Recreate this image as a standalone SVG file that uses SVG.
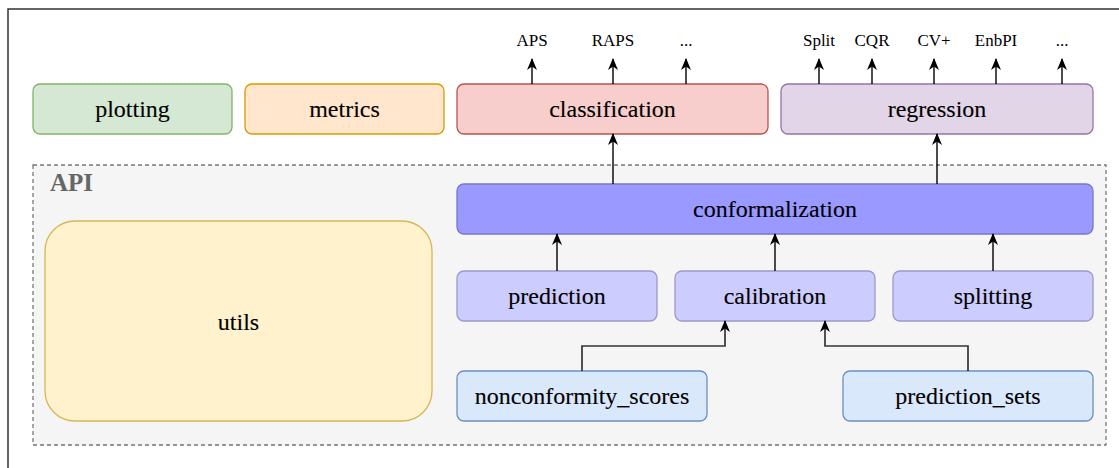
<svg xmlns="http://www.w3.org/2000/svg" width="1119" height="468" viewBox="0 0 1119 468">
<style>
  .nt { font-family: "Liberation Serif", "DejaVu Serif", serif; font-size: 24px; fill: #000; stroke: #000; stroke-width: 0.12; text-anchor: middle; }
  .sm { font-family: "Liberation Serif", "DejaVu Serif", serif; font-size: 17px; fill: #000; text-anchor: middle; }
  .api { font-family: "Liberation Serif", "DejaVu Serif", serif; font-size: 25px; font-weight: bold; fill: #666; }
  .box { stroke-width: 1.3; }
  .edge { fill: none; stroke: #000; stroke-width: 1.4; }
  .elbow { fill: none; stroke: #333; stroke-width: 1.7; }
</style>
<defs>
  <marker id="arr" viewBox="0 0 12 10" refX="11" refY="5" markerWidth="12" markerHeight="10" markerUnits="userSpaceOnUse" orient="auto">
    <path d="M0,0 L12,5 L0,10 L3.5,5 Z" fill="#000"/>
  </marker>
</defs>
<rect x="0" y="0" width="1119" height="468" fill="#fff"/>
<rect x="8" y="9" width="1140" height="480" fill="none" stroke="#333" stroke-width="1.5"/>

<g id="api">
  <rect x="33" y="165" width="1073" height="280" fill="#f5f5f5" stroke="#777" stroke-width="1.3" stroke-dasharray="4 3"/>
  <text class="api" x="50" y="191">API</text>
</g>

<g id="plotting">
  <rect class="box" x="33" y="84" width="199" height="50" rx="7" fill="#d5e8d4" stroke="#82b366"/>
  <text class="nt" x="132.5" y="117">plotting</text>
</g>
<g id="metrics">
  <rect class="box" x="245" y="84" width="199" height="50" rx="7" fill="#ffe6cc" stroke="#d79b00"/>
  <text class="nt" x="344.5" y="117">metrics</text>
</g>
<g id="classification">
  <rect class="box" x="457" y="84" width="311" height="50" rx="7" fill="#f8cecc" stroke="#b85450"/>
  <text class="nt" x="612.5" y="117">classification</text>
</g>
<g id="regression">
  <rect class="box" x="781" y="84" width="312" height="50" rx="7" fill="#e1d5e7" stroke="#9673a6"/>
  <text class="nt" x="937" y="117">regression</text>
</g>
<g id="conformalization">
  <rect class="box" x="457" y="184" width="636" height="50" rx="7" fill="#9999ff" stroke="#7777cc"/>
  <text class="nt" x="775" y="217">conformalization</text>
</g>
<g id="utils">
  <rect class="box" x="45" y="221" width="387" height="200" rx="30" fill="#fff2cc" stroke="#d6b656"/>
  <text class="nt" x="238.5" y="330">utils</text>
</g>
<g id="prediction">
  <rect class="box" x="457" y="271" width="200" height="50" rx="7" fill="#ccccff" stroke="#9999cc"/>
  <text class="nt" x="557" y="304">prediction</text>
</g>
<g id="calibration">
  <rect class="box" x="675" y="271" width="200" height="50" rx="7" fill="#ccccff" stroke="#9999cc"/>
  <text class="nt" x="775" y="304">calibration</text>
</g>
<g id="splitting">
  <rect class="box" x="893" y="271" width="200" height="50" rx="7" fill="#ccccff" stroke="#9999cc"/>
  <text class="nt" x="993" y="304">splitting</text>
</g>
<g id="nonconformity_scores">
  <rect class="box" x="457" y="371" width="250" height="50" rx="7" fill="#dae8fc" stroke="#6c8ebf"/>
  <text class="nt" x="582" y="404">nonconformity_scores</text>
</g>
<g id="prediction_sets">
  <rect class="box" x="843" y="371" width="250" height="50" rx="7" fill="#dae8fc" stroke="#6c8ebf"/>
  <text class="nt" x="968" y="404">prediction_sets</text>
</g>

<g id="top-labels">
  <text class="sm" x="532" y="46">APS</text>
  <text class="sm" x="613" y="46">RAPS</text>
  <text class="sm" x="686" y="46">...</text>
  <text class="sm" x="819" y="46">Split</text>
  <text class="sm" x="872" y="46">CQR</text>
  <text class="sm" x="934" y="46">CV+</text>
  <text class="sm" x="996" y="46">EnbPI</text>
  <text class="sm" x="1062" y="46">...</text>
</g>

<g id="connectors">
  <line class="edge" x1="532" y1="84" x2="532" y2="59" marker-end="url(#arr)"/>
  <line class="edge" x1="613" y1="84" x2="613" y2="59" marker-end="url(#arr)"/>
  <line class="edge" x1="686" y1="84" x2="686" y2="59" marker-end="url(#arr)"/>
  <line class="edge" x1="819" y1="84" x2="819" y2="59" marker-end="url(#arr)"/>
  <line class="edge" x1="872" y1="84" x2="872" y2="59" marker-end="url(#arr)"/>
  <line class="edge" x1="934" y1="84" x2="934" y2="59" marker-end="url(#arr)"/>
  <line class="edge" x1="996" y1="84" x2="996" y2="59" marker-end="url(#arr)"/>
  <line class="edge" x1="1062" y1="84" x2="1062" y2="59" marker-end="url(#arr)"/>
  <line class="edge" x1="613" y1="184" x2="613" y2="134" marker-end="url(#arr)"/>
  <line class="edge" x1="937" y1="184" x2="937" y2="134" marker-end="url(#arr)"/>
  <line class="edge" x1="557" y1="271" x2="557" y2="234" marker-end="url(#arr)"/>
  <line class="edge" x1="775" y1="271" x2="775" y2="234" marker-end="url(#arr)"/>
  <line class="edge" x1="993" y1="271" x2="993" y2="234" marker-end="url(#arr)"/>
  <polyline class="elbow" points="582,371 582,346 725,346 725,321" marker-end="url(#arr)"/>
  <polyline class="elbow" points="968,371 968,346 825,346 825,321" marker-end="url(#arr)"/>
</g>
</svg>
